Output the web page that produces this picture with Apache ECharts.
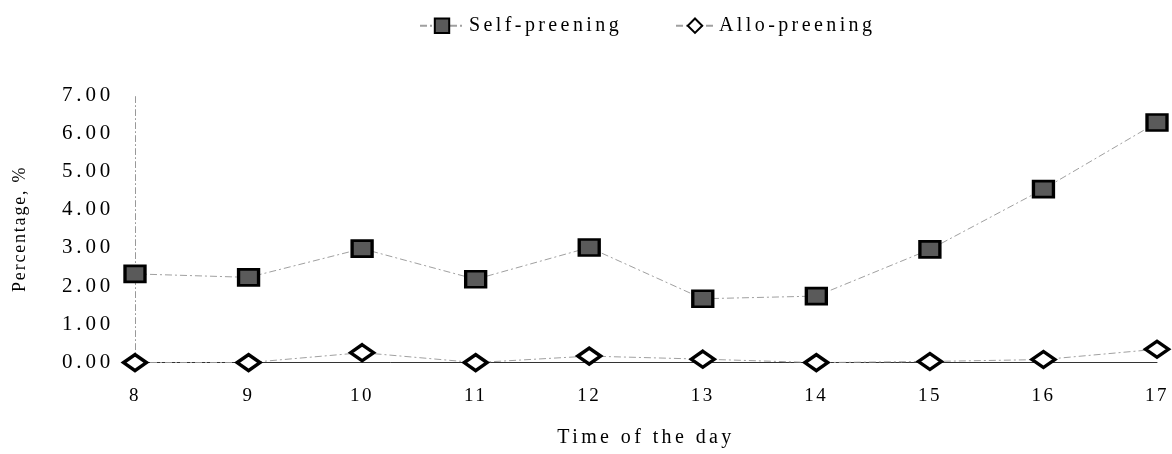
<!DOCTYPE html>
<html>
<head>
<meta charset="utf-8">
<script src="https://cdn.jsdelivr.net/npm/echarts@6/dist/echarts.min.js"></script>
<style>
  html, body { margin: 0; padding: 0; background: #fff; }
  #chart { width: 1172px; height: 454px; }
</style>
</head>
<body>
<div id="chart"></div>
<script>
const hours = ['8', '9', '10', '11', '12', '13', '14', '15', '16', '17'];
const selfPreening = [2.32, 2.23, 2.98, 2.18, 3.01, 1.67, 1.74, 2.96, 4.54, 6.28];
const alloPreening = [0.00, 0.00, 0.26, 0.00, 0.17, 0.09, 0.00, 0.03, 0.08, 0.35];
const yTicks = [0, 1, 2, 3, 4, 5, 6, 7];

// Letter spacing of the scanned figure's type, keyed by font size.
const SPACING = { 20: 3.4, 21: 3.8, 19: 2.5, 18: 1.8 };
(function () {
  const P = CanvasRenderingContext2D.prototype;
  if (!('letterSpacing' in P)) return;
  const spacingFor = font => {
    const m = /(\d+(?:\.\d+)?)px/.exec(font || '');
    const s = m ? SPACING[+m[1]] : 0;
    return (s || 0) + 'px';
  };
  ['fillText', 'strokeText', 'measureText'].forEach(fn => {
    const orig = P[fn];
    P[fn] = function () {
      const prev = this.letterSpacing;
      this.letterSpacing = spacingFor(this.font);
      const r = orig.apply(this, arguments);
      this.letterSpacing = prev;
      return r;
    };
  });
})();

const FONT = 'Liberation Serif';
const chart = echarts.init(document.getElementById('chart'), null, { renderer: 'canvas' });

chart.setOption({
  backgroundColor: '#ffffff',
  animation: false,
  textStyle: { fontFamily: FONT, color: '#000' },
  legend: [
    {
      data: ['Self-preening'],
      left: 414, top: 9,
      itemWidth: 44, itemHeight: 18, itemGap: 5,
      textStyle: { fontFamily: FONT, fontSize: 20, color: '#000' }
    },
    {
      data: ['Allo-preening'],
      left: 670, top: 9,
      itemWidth: 38, itemHeight: 18, itemGap: 5,
      textStyle: { fontFamily: FONT, fontSize: 20, color: '#000' }
    }
  ],
  grid: { left: 135, right: 14, top: 95, bottom: 87, containLabel: false },
  xAxis: {
    type: 'category',
    data: hours,
    boundaryGap: false,
    name: 'Time of the day',
    nameLocation: 'middle',
    nameGap: 63,
    nameTextStyle: { fontFamily: FONT, fontSize: 20, color: '#000' },
    axisLine: { lineStyle: { color: '#333', width: 1 } },
    axisTick: { show: false },
    axisLabel: { fontFamily: FONT, fontSize: 19, color: '#000', margin: 23 },
    splitLine: { show: false }
  },
  yAxis: {
    type: 'value',
    min: yTicks[0],
    max: yTicks[yTicks.length - 1],
    interval: 1,
    name: 'Percentage, %',
    nameLocation: 'middle',
    nameGap: 105,
    nameTextStyle: { fontFamily: FONT, fontSize: 18, color: '#000' },
    axisLine: { show: true, lineStyle: { color: '#999', width: 1, type: [6, 3, 1, 3] } },
    axisTick: { show: false },
    axisLabel: {
      fontFamily: FONT, fontSize: 21, color: '#000', margin: 21,
      formatter: v => v.toFixed(2)
    },
    splitLine: { show: false }
  },
  series: [
    {
      name: 'Self-preening',
      type: 'line',
      data: selfPreening,
      symbol: 'rect',
      symbolSize: [20, 16],
      lineStyle: { color: '#a0a0a0', width: 1, type: [7, 3, 2, 3] },
      itemStyle: { color: '#5a5a5a', borderColor: '#000', borderWidth: 3 },
      z: 3
    },
    {
      name: 'Allo-preening',
      type: 'line',
      data: alloPreening,
      symbol: 'diamond',
      symbolSize: [23, 16],
      lineStyle: { color: '#a0a0a0', width: 1, type: [7, 3, 2, 3] },
      itemStyle: { color: '#fff', borderColor: '#000', borderWidth: 3.5 },
      z: 4
    }
  ]
});
</script>
</body>
</html>
